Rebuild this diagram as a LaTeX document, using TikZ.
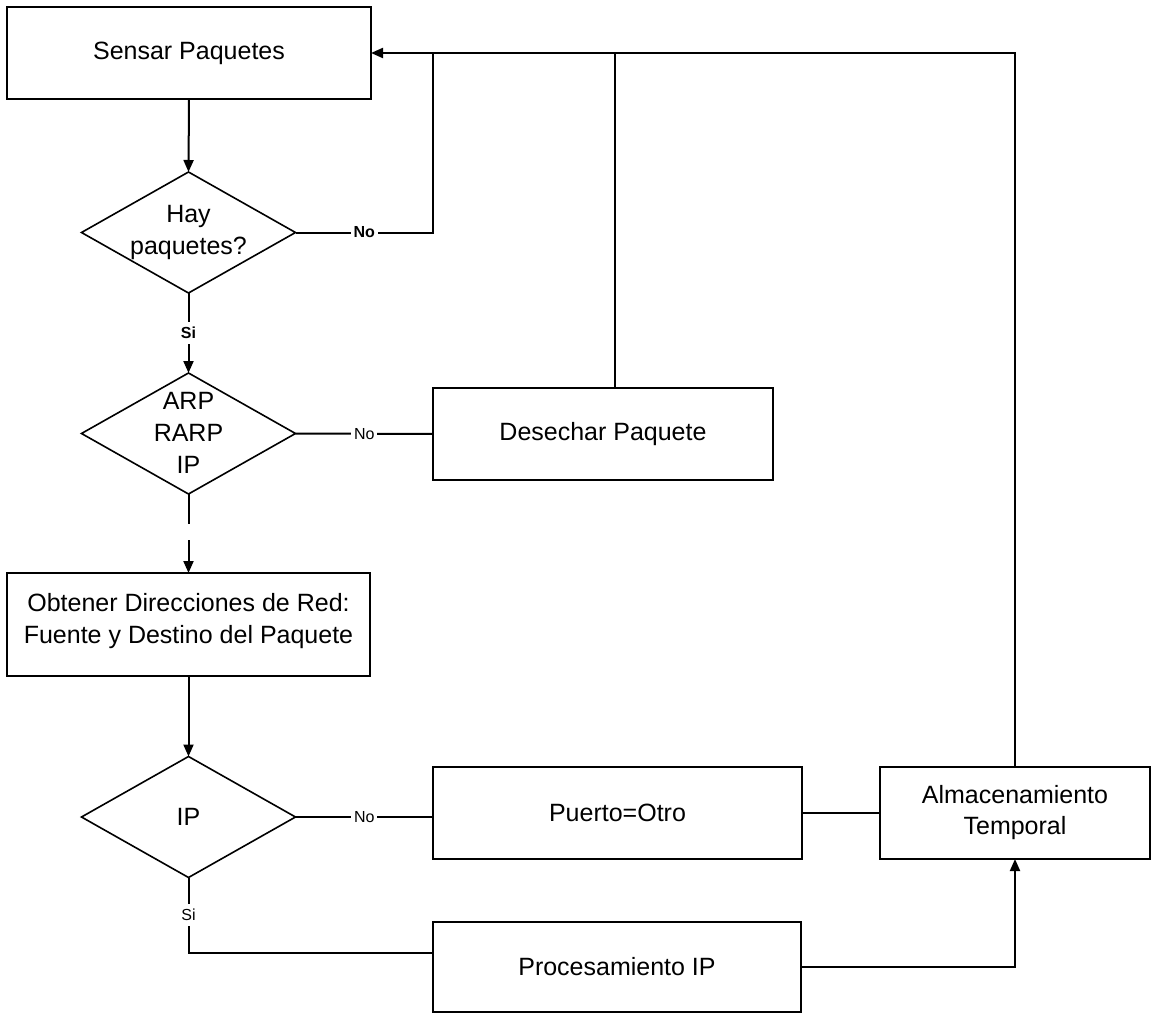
\documentclass[tikz,border=0pt]{standalone}
\usepackage{fontspec}
\setmainfont{Liberation Sans}
\usetikzlibrary{shapes.geometric,arrows.meta}
\begin{document}
\begin{tikzpicture}[x=1pt,y=-1pt,line width=2pt,
  box/.style={draw,rectangle,inner sep=0pt,outer sep=0pt,align=center,font=\fontsize{25}{31}\selectfont},
  dia/.style={draw,diamond,inner sep=0pt,outer sep=0pt,minimum width=214pt,minimum height=121pt,line width=1.6pt},
  txt/.style={align=center,inner sep=0pt,font=\fontsize{25}{32}\selectfont},
  lbl/.style={fill=white,inner xsep=3pt,inner ysep=5pt,font=\fontsize{16}{18}\selectfont},
  arr/.style={-{Triangle[length=12pt,width=10pt]}}]
\useasboundingbox (0,0) rectangle (1152,1014);
% boxes
\node[box,minimum width=364pt,minimum height=92pt] (sens) at (189,53) {Sensar Paquetes};
\node[box,minimum width=340pt,minimum height=92pt] (des) at (603,434) {Desechar Paquete};
\node[box,minimum width=363pt,minimum height=103pt] (obt) at (188.5,624.5) {};
\node[txt] at (188.5,621) {Obtener Direcciones de Red:\\Fuente y Destino del Paquete};
\node[box,minimum width=369pt,minimum height=92pt] (pue) at (617.5,813) {Puerto=Otro};
\node[box,minimum width=270pt,minimum height=92pt] (alm) at (1015,813) {Almacenamiento\\Temporal};
\node[box,minimum width=368pt,minimum height=90pt] (proc) at (617,967) {Procesamiento IP};
% diamonds
\node[dia] (hay) at (188.5,232.5) {};
\node[txt] at (188.5,232) {Hay\\paquetes?};
\node[dia] (arp) at (188.5,433.5) {};
\node[txt] at (188.5,433) {ARP\\RARP\\IP};
\node[dia] (ip) at (188.5,817) {};
\node[txt] at (188.5,817) {IP};
% helper coordinates
\coordinate (j1) at (433,53);
\coordinate (d1) at (615,434);
\coordinate (g1) at (188.5,524);
\coordinate (g2) at (188.5,540);
\coordinate (c3) at (188.5,953);
% connectors
\draw[arr] (sens.south) -- (hay.north);
\draw[arr] (hay.south) -- node[lbl]{\textbf{Si}} (arp.north);
\draw (hay.east) -- node[lbl]{\textbf{No}} (hay.east -| j1) -- (j1);
\draw[arr] (alm.north) -- (alm.north |- sens.east) -- (sens.east);
\draw (d1 |- des.north) -- (d1 |- sens.east);
\draw (arp.east) -- node[lbl]{No} (des.west);
\draw (arp.south) -- (g1);
\draw[arr] (g2) -- (obt.north);
\draw[arr] (obt.south) -- (ip.north);
\draw (ip.east) -- node[lbl]{No} (ip.east -| pue.west);
\draw (ip.south) -- node[lbl]{Si} (c3) -- (c3 -| proc.west);
\draw (pue.east) -- (pue.east -| alm.west);
\draw[arr] (proc.east) -- (proc.east -| alm.south) -- (alm.south);
\end{tikzpicture}
\end{document}
